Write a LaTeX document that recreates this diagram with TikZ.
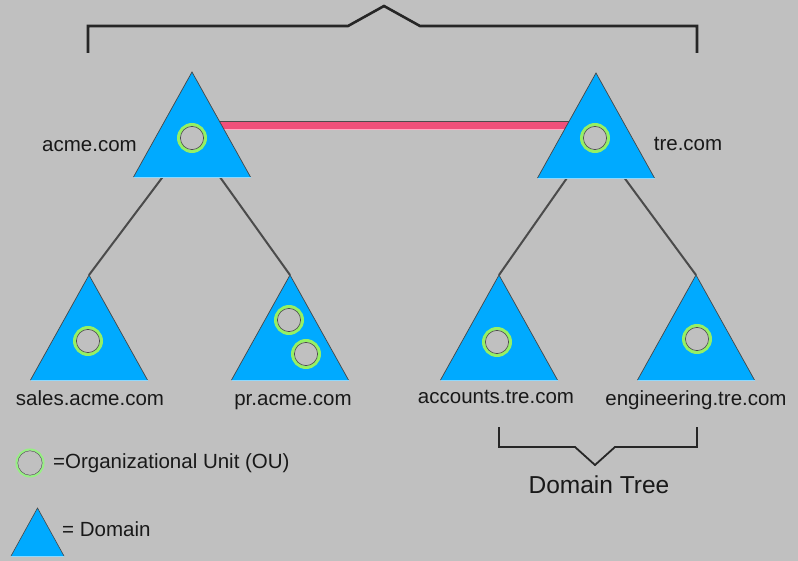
\documentclass[tikz,border=0pt]{standalone}
\usepackage{fontspec}
\setmainfont{Liberation Sans}
\definecolor{bg}{RGB}{192,192,192}
\definecolor{dom}{RGB}{0,170,255}
\definecolor{ringc}{RGB}{150,240,100}
\definecolor{legring}{RGB}{150,240,130}
\definecolor{pinkc}{RGB}{240,80,122}
\definecolor{pinklight}{RGB}{255,170,195}
\definecolor{txt}{RGB}{25,25,25}
\definecolor{conn}{RGB}{75,75,75}
\tikzset{
  lbl/.style={anchor=base, inner sep=0pt, text=txt, font=\fontsize{20.5}{23}\selectfont},
  connline/.style={draw=conn, line width=2pt},
  bracket/.style={draw=black!85, line width=2.6pt, line join=miter},
  smallbracket/.style={draw=black!85, line width=1.8pt, line join=miter},
}
\newcommand{\domtri}[3]{% apex x, apex y, name
  \fill[dom] (#1,#2) -- (#1-58.5,#2+105) -- (#1+58.5,#2+105) -- cycle;
  \draw[gray!55!black, line width=0.7pt, line join=miter] (#1-58.5,#2+105) -- (#1,#2) -- (#1+58.5,#2+105);
  \draw[white!55!dom, line width=0.9pt] (#1-58.5,#2+105) -- (#1+58.5,#2+105);
  \coordinate (#3) at (#1,#2);
}
\newcommand{\ouring}[1]{%
  \fill[bg] (#1) circle (12.5);
  \draw[ringc, line width=3.2pt] (#1) circle (13.4);
  \draw[gray!60!black, line width=0.6pt] (#1) circle (11.6);
}
\begin{document}
\begin{tikzpicture}[x=1pt,y=-1pt]
\fill[bg] (0,0) rectangle (798,561);
\useasboundingbox (0,0) rectangle (798,561);

% centres of the OU circles
\coordinate (acmeC) at (192,138);
\coordinate (treC) at (595,138);
\coordinate (salesC) at (88,341);
\coordinate (prC1) at (289,320);
\coordinate (prC2) at (306,354);
\coordinate (accC) at (497,342);
\coordinate (engC) at (697,339);

% apex coordinates of the child domains
\coordinate (salesA) at (89,275);
\coordinate (prA) at (290,275);
\coordinate (accA) at (499,275);
\coordinate (engA) at (696,275);

% tree connectors
\draw[connline] (salesA) -- (acmeC);
\draw[connline] (prA) -- (acmeC);
\draw[connline] (accA) -- (treC);
\draw[connline] (engA) -- (treC);

% trust link
\coordinate (trustL) at (192,125.5);
\coordinate (trustR) at (595,125.5);
\draw[gray!60!black, line width=1pt] ([yshift=4.3]trustL) -- ([yshift=4.3]trustR);
\draw[pinkc, line width=7.5pt] (trustL) -- (trustR);
\draw[pinklight, line width=1.6pt] ([yshift=-4.2]trustL) -- ([yshift=-4.2]trustR);

% domains
\domtri{192}{72}{acmeT}
\domtri{596}{73}{treT}
\domtri{89}{275}{salesT}
\domtri{290}{275}{prT}
\domtri{499}{275}{accT}
\domtri{696}{275}{engT}

% organizational units
\ouring{acmeC}
\ouring{treC}
\ouring{salesC}
\ouring{prC1}
\ouring{prC2}
\ouring{accC}
\ouring{engC}

% labels
\node[lbl] (acmeL) at (89.5,152) {acme.com};
\node[lbl] (treL) at (688,151) {tre.com};
\node[lbl] (salesL) at (90,405) {sales.acme.com};
\node[lbl] (prL) at (293,405) {pr.acme.com};
\node[lbl] (accL) at (496,403) {accounts.tre.com};
\node[lbl] (engL) at (696,405) {engineering.tre.com};

% top bracket (forest)
\draw[bracket] (88,53) -- (88,26) -- (348,26) -- (384,6) -- (420,26) -- (697,26) -- (697,53);

% domain tree bracket
\draw[smallbracket] (499,427) -- (499,447) -- (575,447) -- (595,465) -- (615,447) -- (697,447) -- (697,427);
\node[lbl, font=\fontsize{24.5}{27}\selectfont] (dtL) at (599,493) {Domain Tree};

% legend
\coordinate (legC) at (30,463);
\draw[legring, line width=2pt] (legC) circle (13.5);
\draw[gray!60!black, line width=0.4pt] (legC) circle (12.2);
\node[lbl, anchor=base west] (ouL) at (53,468) {=Organizational Unit (OU)};
\fill[dom] (37.5,508) -- (11,556) -- (64,556) -- cycle;
\draw[gray!55!black, line width=0.6pt] (11,556) -- (37.5,508) -- (64,556);
\draw[white!55!dom, line width=0.9pt] (11,556) -- (64,556);
\node[lbl, anchor=base west] (domL) at (62,536) {= Domain};
\end{tikzpicture}
\end{document}
